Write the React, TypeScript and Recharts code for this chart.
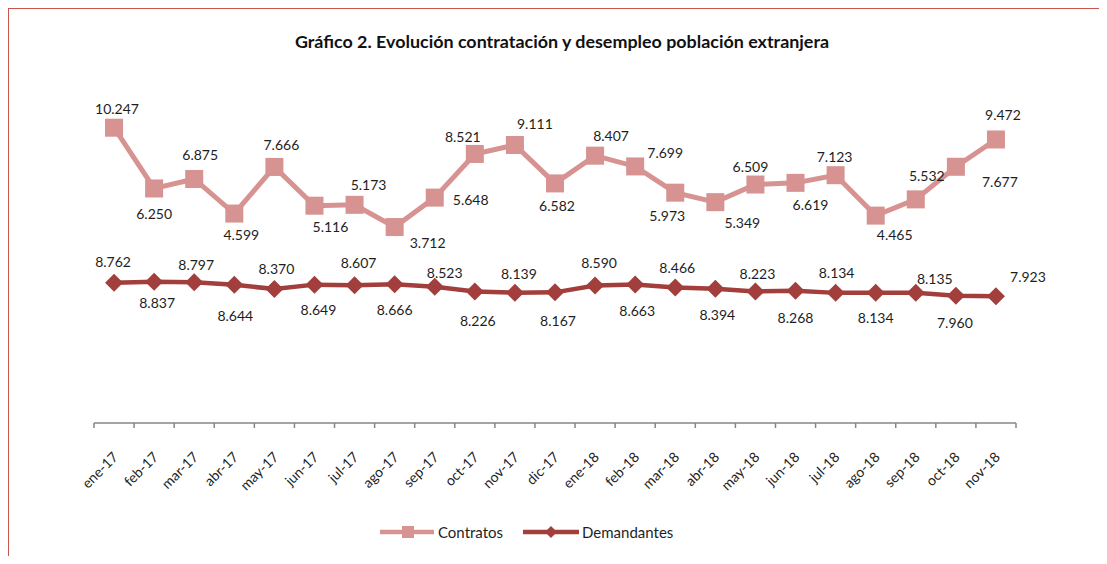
import React from 'react';
import { LineChart, Line, XAxis, YAxis, LabelList } from 'recharts';

const months = [
  'ene-17', 'feb-17', 'mar-17', 'abr-17', 'may-17', 'jun-17', 'jul-17', 'ago-17',
  'sep-17', 'oct-17', 'nov-17', 'dic-17', 'ene-18', 'feb-18', 'mar-18', 'abr-18',
  'may-18', 'jun-18', 'jul-18', 'ago-18', 'sep-18', 'oct-18', 'nov-18',
];

const contratos = [
  10247, 6250, 6875, 4599, 7666, 5116, 5173, 3712, 5648, 8521, 9111, 6582,
  8407, 7699, 5973, 5349, 6509, 6619, 7123, 4465, 5532, 7677, 9472,
];

const demandantes = [
  8762, 8837, 8797, 8644, 8370, 8649, 8607, 8666, 8523, 8226, 8139, 8167,
  8590, 8663, 8466, 8394, 8223, 8268, 8134, 8134, 8135, 7960, 7923,
];

// label offsets from the marker, as placed in the original
const contratosLabelPos = [
  [3, -19], [0, 25], [6, -24], [7, 21], [7, -22], [16, 21], [14, -20], [33, 15],
  [36, 2], [-12, -17], [20, -21], [2, 22], [16, -20], [30, -14], [-8, 23], [27, 20],
  [-5, -18], [15, 22], [-1, -19], [19, 19], [11, -24], [44, 15], [7, -25],
];
const demandantesLabelPos = [
  [-1, -21], [3, 21], [2, -18], [1, 31], [2, -21], [4, 25], [4, -23], [0, 25],
  [10, -14], [3, 29], [4, -19], [3, 28], [4, -23], [2, 26], [2, -20], [2, 26],
  [2, -18], [0, 27], [1, -20], [0, 25], [19, -14], [-1, 27], [32, -20],
];

const data = months.map((mes, i) => ({ mes, contratos: contratos[i], demandantes: demandantes[i] }));

const C_LIGHT = '#D69391';
const C_DARK = '#A23E3B';
const FONT = 'Lato, "Open Sans", sans-serif';

const W = 1090;
const H = 547;
const MARGIN = { top: 91, right: 83, bottom: 73, left: 85 };
const PLOT_W = W - MARGIN.left - MARGIN.right;
const BAND = PLOT_W / months.length;

const fmt = (v: number) => {
  const k = Math.floor(v / 1000);
  const r = String(v % 1000).padStart(3, '0');
  return k > 0 ? `${k}.${r}` : String(v);
};

const makeLabel = (pos: number[][]) => (props: any) => {
  const { x, y, value, index } = props;
  const [dx, dy] = pos[index] || [0, -20];
  return (
    <text x={x + dx} y={y + dy} textAnchor="middle" dominantBaseline="central"
      fontSize={14} fontFamily={FONT} fill="#1e1e1e">
      {fmt(value)}
    </text>
  );
};

const SquareDot = (props: any) => {
  const { cx, cy, index } = props;
  return <rect key={`sq-${index}`} x={cx - 9} y={cy - 9} width={18} height={18} fill={C_LIGHT} />;
};

const DiamondDot = (props: any) => {
  const { cx, cy, index } = props;
  return (
    <path key={`dm-${index}`} d={`M${cx},${cy - 9} L${cx + 9},${cy} L${cx},${cy + 9} L${cx - 9},${cy} Z`}
      fill={C_DARK} />
  );
};

const MonthTick = (props: any) => {
  const { x, y, payload, index } = props;
  const tx = x + 5;
  const ty = y + 35;
  return (
    <g>
      <line x1={x - BAND / 2} x2={x - BAND / 2} y1={y} y2={y + 5} stroke="#868686" strokeWidth={1.5} />
      {index === months.length - 1 && (
        <line x1={x + BAND / 2} x2={x + BAND / 2} y1={y} y2={y + 5} stroke="#868686" strokeWidth={1.5} />
      )}
      <text x={tx} y={ty} transform={`rotate(-45, ${tx}, ${ty})`} textAnchor="end"
        fontSize={14} fontFamily={FONT} fill="#222">
        {payload.value}
      </text>
    </g>
  );
};

export default function App() {
  return (
    <div style={{
      position: 'relative', width: 1091, height: 548, boxSizing: 'border-box',
      borderLeft: '1px solid #C85450', borderTop: '1px solid #C85450', overflow: 'hidden',
      fontFamily: FONT,
    }}>
      <div style={{
        position: 'absolute', left: 203, top: 21, width: 700, textAlign: 'center',
        fontSize: 17.9, lineHeight: '22px', fontWeight: 700, color: '#111',
      }}>
        Gráfico 2. Evolución contratación y desempleo población extranjera
      </div>

      <LineChart width={W} height={H} data={data} margin={MARGIN}>
        <XAxis dataKey="mes" axisLine={{ stroke: '#868686', strokeWidth: 1.5 }} tickLine={false}
          tickSize={0} tickMargin={0} height={60} interval={0} tick={<MonthTick />}
          padding={{ left: BAND / 2, right: BAND / 2 }} />
        <YAxis yAxisId="left" hide domain={[-9180, 12070]} />
        <YAxis yAxisId="right" hide orientation="right" domain={[0, 20190]} />
        <Line yAxisId="left" dataKey="contratos" name="Contratos" stroke={C_LIGHT} strokeWidth={5}
          dot={SquareDot} activeDot={false} isAnimationActive={false}>
          <LabelList dataKey="contratos" content={makeLabel(contratosLabelPos)} />
        </Line>
        <Line yAxisId="right" dataKey="demandantes" name="Demandantes" stroke={C_DARK} strokeWidth={4.5}
          dot={DiamondDot} activeDot={false} isAnimationActive={false}>
          <LabelList dataKey="demandantes" content={makeLabel(demandantesLabelPos)} />
        </Line>
      </LineChart>

      <div style={{ position: 'absolute', top: 513, left: 371, height: 20, display: 'flex', alignItems: 'center', fontSize: 15, color: '#1e1e1e' }}>
        <svg width={54} height={20}>
          <line x1={0} x2={54} y1={10} y2={10} stroke={C_LIGHT} strokeWidth={4.5} />
          <rect x={22} y={4} width={12} height={12} fill={C_LIGHT} />
        </svg>
        <span style={{ marginLeft: 4 }}>Contratos</span>
        <svg width={56} height={20} style={{ marginLeft: 20 }}>
          <line x1={0} x2={56} y1={10} y2={10} stroke={C_DARK} strokeWidth={4.5} />
          <path d="M28,4 L34,10 L28,16 L22,10 Z" fill={C_DARK} />
        </svg>
        <span style={{ marginLeft: 3 }}>Demandantes</span>
      </div>
    </div>
  );
}
